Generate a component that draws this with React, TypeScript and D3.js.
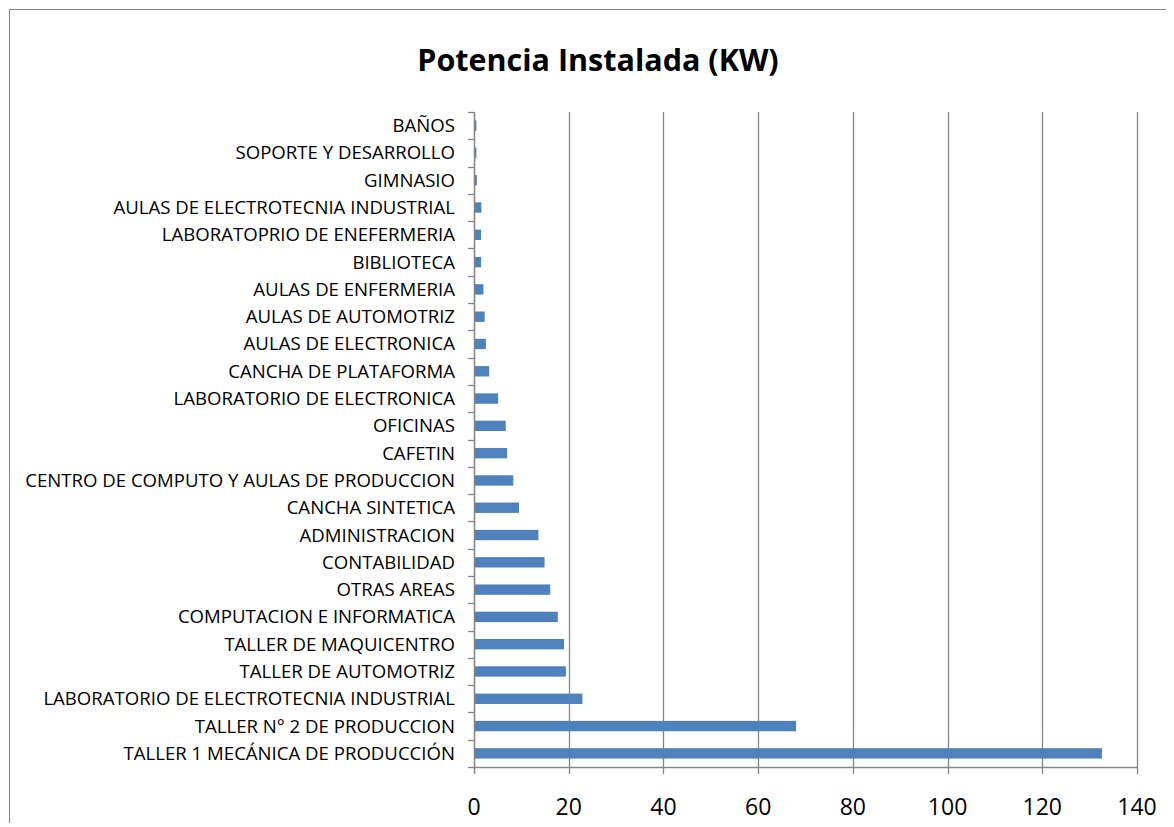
import React, { useEffect, useRef } from "react";
import * as d3 from "d3";

// categories listed bottom-to-top as in the original sheet
const categories = [
  "TALLER 1 MECÁNICA DE PRODUCCIÓN",
  "TALLER N° 2 DE PRODUCCION",
  "LABORATORIO DE ELECTROTECNIA INDUSTRIAL",
  "TALLER DE AUTOMOTRIZ",
  "TALLER DE MAQUICENTRO",
  "COMPUTACION E INFORMATICA",
  "OTRAS AREAS",
  "CONTABILIDAD",
  "ADMINISTRACION",
  "CANCHA SINTETICA",
  "CENTRO DE COMPUTO Y AULAS DE PRODUCCION",
  "CAFETIN",
  "OFICINAS",
  "LABORATORIO DE ELECTRONICA",
  "CANCHA DE PLATAFORMA",
  "AULAS DE ELECTRONICA",
  "AULAS DE AUTOMOTRIZ",
  "AULAS DE ENFERMERIA",
  "BIBLIOTECA",
  "LABORATOPRIO DE ENEFERMERIA",
  "AULAS DE ELECTROTECNIA INDUSTRIAL",
  "GIMNASIO",
  "SOPORTE Y DESARROLLO",
  "BAÑOS",
];

const potencia = [
  132.6, 68.0, 22.9, 19.4, 19.0, 17.7, 16.1, 14.9, 13.6, 9.5, 8.3, 7.0, 6.7,
  5.1, 3.2, 2.5, 2.25, 2.0, 1.5, 1.5, 1.55, 0.6, 0.5, 0.5,
];

const xTicks = [0, 20, 40, 60, 80, 100, 120, 140];

const title = "Potencia Instalada (KW)";

const App = () => {
  const svgRef = useRef<SVGSVGElement>(null);

  useEffect(() => {
    const width = 1174;
    const height = 827;
    const margin = { top: 112, right: 37, bottom: 60, left: 474 };

    const svg = d3.select(svgRef.current);
    svg.selectAll("*").remove();
    svg.attr("width", width).attr("height", height);

    const font = "'Open Sans', sans-serif";

    // chart area frame
    svg.append("rect")
      .attr("x", 9.5)
      .attr("y", 9.5)
      .attr("width", 1163)
      .attr("height", 830)
      .attr("fill", "white")
      .attr("stroke", "#868686")
      .attr("stroke-width", 1);

    svg.append("text")
      .attr("x", 598)
      .attr("y", 71)
      .attr("text-anchor", "middle")
      .attr("font-family", font)
      .attr("font-weight", "bold")
      .attr("font-size", "30.5px")
      .text(title);

    const data = categories.map((c, i) => ({ cat: c, val: potencia[i] }));

    const x = d3.scaleLinear()
      .domain([0, 140])
      .range([margin.left, width - margin.right]);

    const y = d3.scaleBand()
      .domain(categories.slice().reverse())
      .range([margin.top, height - margin.bottom])
      .paddingInner(0.62)
      .paddingOuter(0.31);

    const plotBottom = height - margin.bottom;

    // vertical gridlines + ticks
    svg.append("g")
      .selectAll("line")
      .data(xTicks)
      .enter()
      .append("line")
      .attr("x1", d => Math.round(x(d)) + 0.5)
      .attr("x2", d => Math.round(x(d)) + 0.5)
      .attr("y1", margin.top)
      .attr("y2", plotBottom + 7)
      .attr("stroke", "#868686")
      .attr("stroke-width", 1.3);

    svg.append("g")
      .selectAll("text")
      .data(xTicks)
      .enter()
      .append("text")
      .attr("x", d => x(d))
      .attr("y", plotBottom + 48)
      .attr("text-anchor", "middle")
      .attr("font-family", font)
      .attr("font-size", "23px")
      .text(d => d);

    // x axis baseline
    svg.append("line")
      .attr("x1", margin.left)
      .attr("x2", width - margin.right)
      .attr("y1", plotBottom + 0.5)
      .attr("y2", plotBottom + 0.5)
      .attr("stroke", "#868686")
      .attr("stroke-width", 1.3);

    // category ticks at band boundaries
    const step = y.step();
    const bounds = d3.range(categories.length + 1).map(i => margin.top + i * step);
    svg.append("g")
      .selectAll("line")
      .data(bounds)
      .enter()
      .append("line")
      .attr("x1", margin.left - 6)
      .attr("x2", margin.left)
      .attr("y1", d => Math.round(d) + 0.5)
      .attr("y2", d => Math.round(d) + 0.5)
      .attr("stroke", "#868686")
      .attr("stroke-width", 1.3);

    svg.append("g")
      .selectAll("rect")
      .data(data)
      .enter()
      .append("rect")
      .attr("x", x(0) + 1)
      .attr("y", d => y(d.cat)!)
      .attr("width", d => x(d.val) - x(0) - 1)
      .attr("height", y.bandwidth())
      .attr("fill", "#4F81BD");

    svg.append("g")
      .selectAll("text")
      .data(data)
      .enter()
      .append("text")
      .attr("x", margin.left - 19)
      .attr("y", d => y(d.cat)! + y.bandwidth() / 2)
      .attr("dy", "0.35em")
      .attr("text-anchor", "end")
      .attr("font-family", font)
      .attr("font-size", "18.6px")
      .text(d => d.cat);

    // y axis line
    svg.append("line")
      .attr("x1", margin.left + 0.5)
      .attr("x2", margin.left + 0.5)
      .attr("y1", margin.top)
      .attr("y2", plotBottom + 7)
      .attr("stroke", "#868686")
      .attr("stroke-width", 1.3);
  }, []);

  return (
    <div style={{ margin: -8 }}>
      <svg ref={svgRef}></svg>
    </div>
  );
};

export default App;
